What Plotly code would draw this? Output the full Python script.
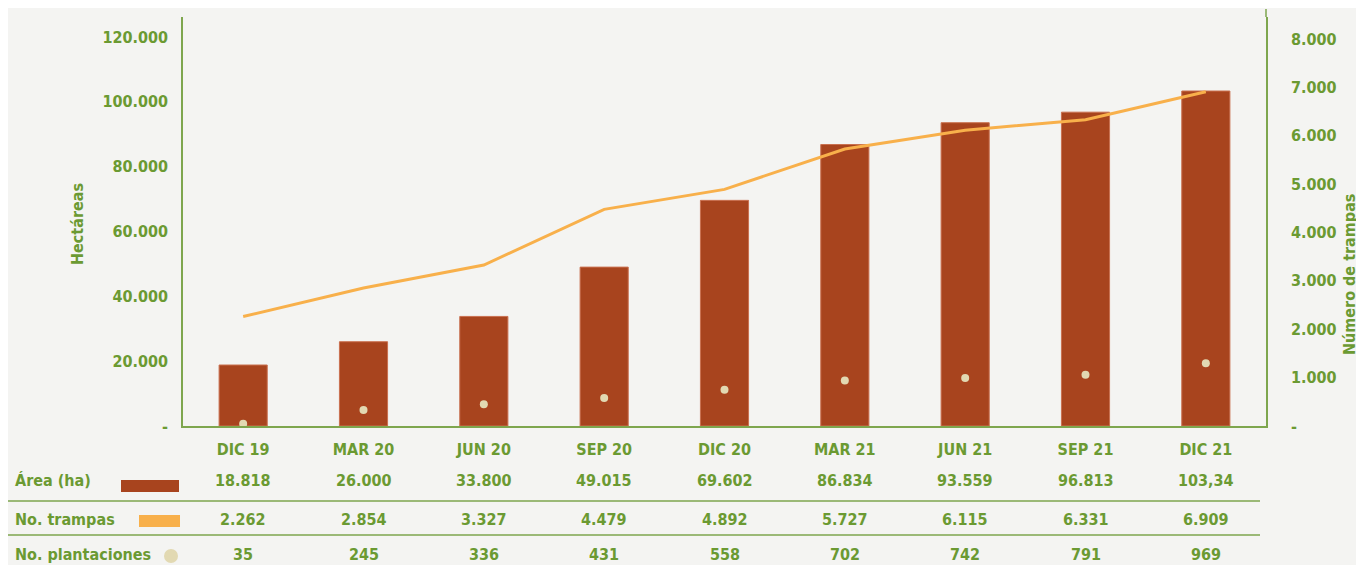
import plotly.graph_objects as go

categories = ["DIC 19", "MAR 20", "JUN 20", "SEP 20", "DIC 20", "MAR 21", "JUN 21", "SEP 21", "DIC 21"]
area_ha = [18818, 26000, 33800, 49015, 69602, 86834, 93559, 96813, 103340]
trampas = [2262, 2854, 3327, 4479, 4892, 5727, 6115, 6331, 6909]
plantaciones = [35, 245, 336, 431, 558, 702, 742, 791, 969]

area_labels = ["18.818", "26.000", "33.800", "49.015", "69.602", "86.834", "93.559", "96.813", "103,34"]
trampas_labels = ["2.262", "2.854", "3.327", "4.479", "4.892", "5.727", "6.115", "6.331", "6.909"]
plant_labels = [str(v) for v in plantaciones]

left_ticks = [0, 20000, 40000, 60000, 80000, 100000, 120000]
left_ticktext = ["-", "20.000", "40.000", "60.000", "80.000", "100.000", "120.000"]
right_ticks = [0, 1000, 2000, 3000, 4000, 5000, 6000, 7000, 8000]
right_ticktext = ["-", "1.000", "2.000", "3.000", "4.000", "5.000", "6.000", "7.000", "8.000"]

GREEN = "#6b9a32"
AXIS = "#7ea64e"
BAR = "#a8441e"
LINE = "#f8b04b"
DOT = "#e2d9b2"
BG = "#f4f4f2"
FONT = "DejaVu Sans Condensed, Liberation Sans Narrow, DejaVu Sans, sans-serif"

OFF = 8  # page body margin
W, H = 1364 - OFF, 565 - OFF
L, R, T, B = 183 - OFF, 98, 17 - OFF, 139
PH = H - T - B
LEFT_MAX = 126170
RIGHT_MAX = 8455


def py(p):
    return (H - B - (p - OFF)) / PH


def px(x):
    return ((x - OFF) - L) / (W - L - R)


fig = go.Figure()
fig.add_trace(go.Bar(x=categories, y=area_ha, marker=dict(color=BAR, line=dict(color="#c9704f", width=1)),
                     width=0.4, yaxis="y", name="Área (ha)"))
fig.add_trace(go.Scatter(x=categories, y=trampas, mode="lines", line=dict(color=LINE, width=3),
                         yaxis="y2", name="No. trampas"))
fig.add_trace(go.Scatter(x=categories, y=plantaciones, mode="markers",
                         marker=dict(color=DOT, size=8, line=dict(width=0)),
                         yaxis="y3", name="No. plantaciones"))

annotations = []
rows = [(481, "Área (ha)", area_labels), (519, "No. trampas", trampas_labels), (554, "No. plantaciones", plant_labels)]
for ypix, label, vals in rows:
    annotations.append(dict(x=px(13), y=py(ypix), xref="paper", yref="paper", text=f"<b>{label}</b>",
                            showarrow=False, xanchor="left", yanchor="middle",
                            font=dict(family=FONT, size=16, color=GREEN)))
    for c, v in zip(categories, vals):
        annotations.append(dict(x=c, y=py(ypix), xref="x", yref="paper", text=f"<b>{v}</b>",
                                showarrow=False, xanchor="center", yanchor="middle",
                                font=dict(family=FONT, size=16, color=GREEN)))

annotations.append(dict(x=px(77), y=py(224), xref="paper", yref="paper", text="<b>Hectáreas</b>",
                        textangle=-90, showarrow=False, xanchor="center", yanchor="middle",
                        font=dict(family=FONT, size=16, color=GREEN)))
annotations.append(dict(x=px(1349), y=py(275), xref="paper", yref="paper", text="<b>Número de trampas</b>",
                        textangle=-90, showarrow=False, xanchor="center", yanchor="middle",
                        font=dict(family=FONT, size=16, color=GREEN)))

shapes = [
    dict(type="line", xref="paper", yref="paper", x0=px(8), x1=px(1260), y0=py(501), y1=py(501),
         line=dict(color=AXIS, width=1.5)),
    dict(type="line", xref="paper", yref="paper", x0=px(8), x1=px(1260), y0=py(535), y1=py(535),
         line=dict(color=AXIS, width=1.5)),
    dict(type="rect", xref="paper", yref="paper", x0=px(121), x1=px(179), y0=py(492), y1=py(480),
         fillcolor=BAR, line=dict(width=0)),
    dict(type="rect", xref="paper", yref="paper", x0=px(139), x1=px(180), y0=py(527), y1=py(515),
         fillcolor=LINE, line=dict(width=0)),
    dict(type="circle", xref="paper", yref="paper", x0=px(164), x1=px(178), y0=py(563), y1=py(549),
         fillcolor=DOT, line=dict(width=0)),
    dict(type="line", xref="paper", yref="paper", x0=1, x1=1, y0=1, y1=py(9),
         line=dict(color=AXIS, width=1.5)),
]

fig.update_layout(
    width=W, height=H,
    margin=dict(l=L, r=R, t=T, b=B),
    paper_bgcolor=BG, plot_bgcolor=BG,
    showlegend=False,
    font=dict(family=FONT, color=GREEN),
    xaxis=dict(showgrid=False, showline=True, linecolor=AXIS, linewidth=1.5, ticks="",
               tickfont=dict(family=FONT, size=16, color=GREEN), ticklabelstandoff=8,
               tickprefix="<b>", ticksuffix="</b>", zeroline=False),
    yaxis=dict(range=[0, LEFT_MAX], tickvals=left_ticks, ticktext=[f"<b>{t}</b>" for t in left_ticktext],
               showgrid=False, zeroline=False, showline=True, linecolor=AXIS, linewidth=1.5, ticks="",
               tickfont=dict(family=FONT, size=16, color=GREEN), ticklabelstandoff=10),
    yaxis2=dict(range=[0, RIGHT_MAX], tickvals=right_ticks, ticktext=[f"<b>{t}</b>" for t in right_ticktext],
                overlaying="y", side="right", showgrid=False, zeroline=False, showline=True,
                linecolor=AXIS, linewidth=1.5, ticks="",
                tickfont=dict(family=FONT, size=16, color=GREEN), ticklabelstandoff=20),
    yaxis3=dict(range=[0, LEFT_MAX / 20], overlaying="y", visible=False),
    annotations=annotations,
    shapes=shapes,
)

fig.write_html("out.html")
